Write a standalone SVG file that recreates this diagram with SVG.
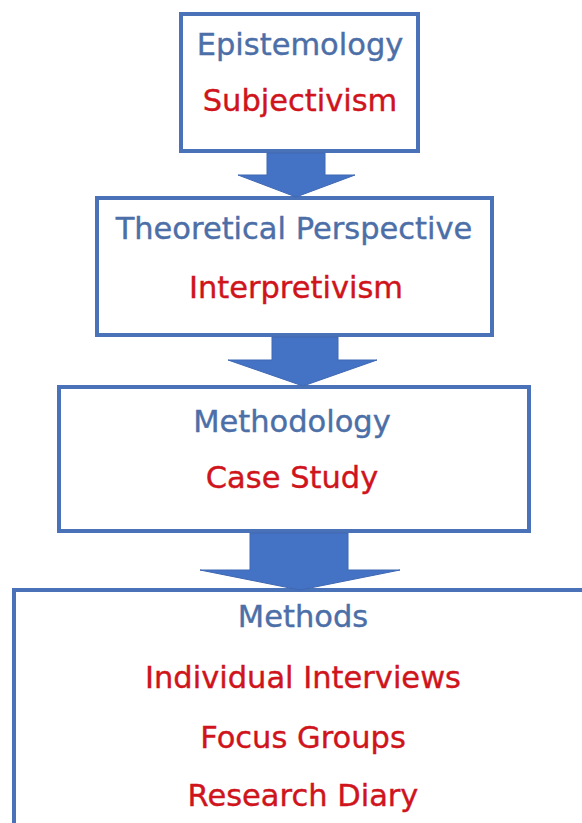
<svg xmlns="http://www.w3.org/2000/svg" width="582" height="823" viewBox="0 0 582 823">
<style>
.box{fill:#ffffff;stroke:#4a72b8;stroke-width:4}
.arrow{fill:#4472c4;stroke:#3f68b3;stroke-width:1}
text{font-family:"DejaVu Sans",Verdana,sans-serif;font-size:30.5px;text-anchor:middle;stroke-width:0.4}
.h{fill:#4c6fa8;stroke:#4c6fa8}
.v{fill:#cf141c;stroke:#cf141c}
</style>
<rect width="582" height="823" fill="#ffffff"/>
<g id="epistemology">
<rect class="box" x="181" y="14" width="237" height="137"/>
<text class="h" x="300" y="55">Epistemology</text>
<text class="v" x="300" y="111">Subjectivism</text>
</g>
<g id="theoretical-perspective">
<rect class="box" x="97" y="198" width="395" height="137"/>
<text class="h" x="294" y="239">Theoretical Perspective</text>
<text class="v" x="296" y="298">Interpretivism</text>
</g>
<g id="methodology">
<rect class="box" x="59" y="387" width="470" height="144"/>
<text class="h" x="292" y="432">Methodology</text>
<text class="v" x="292" y="488">Case Study</text>
</g>
<g id="methods">
<rect class="box" x="14" y="590" width="600" height="250"/>
<text class="h" x="303" y="627">Methods</text>
<text class="v" x="303" y="688">Individual Interviews</text>
<text class="v" x="303" y="748">Focus Groups</text>
<text class="v" x="303" y="806">Research Diary</text>
</g>
<g id="connectors">
<polygon class="arrow" points="267,153 325,153 325,175 355,175 296,197 238,175 267,175"/>
<polygon class="arrow" points="272,337 338,337 338,360 377,360 303,386 228,360 272,360"/>
<polygon class="arrow" points="250,533 348,533 348,570 400,570 300,590 200,570 250,570"/>
</g>
</svg>
